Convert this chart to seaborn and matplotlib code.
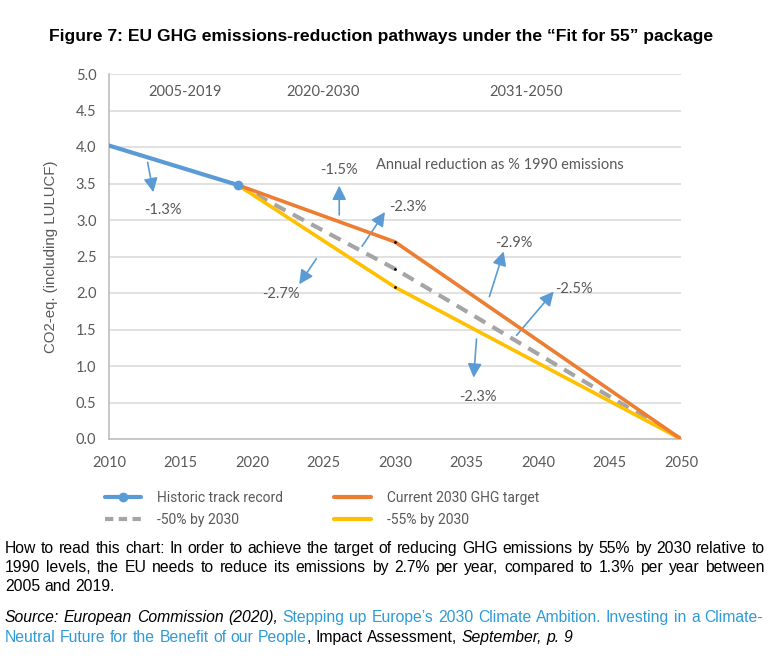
import matplotlib
matplotlib.use("Agg")
import matplotlib.pyplot as plt
import seaborn as sns
import pandas as pd
from matplotlib.lines import Line2D
from matplotlib import font_manager

# ---------------- data ----------------
hist_years = [2010, 2019]
hist_values = [4.02, 3.48]
path_years = [2019, 2030, 2050]
target_values = [3.48, 2.70, 0.0]    # Current 2030 GHG target
p50_values = [3.48, 2.33, 0.0]       # -50% by 2030
p55_values = [3.48, 2.08, 0.0]       # -55% by 2030

x_ticks = [2010, 2015, 2020, 2025, 2030, 2035, 2040, 2045, 2050]
y_ticks = [0.0, 0.5, 1.0, 1.5, 2.0, 2.5, 3.0, 3.5, 4.0, 4.5, 5.0]

period_labels = ["2005-2019", "2020-2030", "2031-2050"]
period_x = [2015.3, 2025.0, 2039.2]

rate_labels = ["-1.3%", "-1.5%", "-2.3%", "-2.7%", "-2.9%", "-2.5%", "-2.3%"]
rate_pos = [(2013.8, 3.14), (2026.1, 3.68), (2030.9, 3.18), (2022.0, 1.99),
            (2038.3, 2.68), (2042.5, 2.05), (2035.8, 0.58)]
arrow_from = [(2012.7, 3.79), (2026.1, 3.07), (2027.7, 2.64), (2024.5, 2.47),
              (2036.6, 1.95), (2038.5, 1.42), (2035.7, 1.37)]
arrow_to = [(2013.1, 3.38), (2026.1, 3.47), (2029.3, 3.11), (2023.3, 2.12),
            (2037.6, 2.57), (2041.1, 2.02), (2035.5, 0.84)]

legend_labels = ["Historic track record", "-50% by 2030",
                 "Current 2030 GHG target", "-55% by 2030"]

BLUE = "#5B9BD5"
ORANGE = "#ED7D31"
GREY = "#A5A5A5"
YELLOW = "#FFC000"
TXT = "#595959"
LINK = "#2E9BD6"

sns.set_theme(style="white")
plt.rcParams["font.family"] = ["Liberation Sans", "DejaVu Sans"]

W, H = 773, 668
fig = plt.figure(figsize=(W / 100, H / 100), dpi=100)
ax = fig.add_axes([109 / W, 1 - 439 / H, (681 - 109) / W, (439 - 74) / H])

df_t = pd.DataFrame({"year": path_years, "value": target_values})
df_50 = pd.DataFrame({"year": path_years, "value": p50_values})
df_55 = pd.DataFrame({"year": path_years, "value": p55_values})
df_h = pd.DataFrame({"year": hist_years, "value": hist_values})

sns.lineplot(data=df_50, x="year", y="value", ax=ax, color=GREY, lw=3.0,
             linestyle=(0, (3, 2)), zorder=3)
sns.lineplot(data=df_55, x="year", y="value", ax=ax, color=YELLOW, lw=2.6, zorder=4)
sns.lineplot(data=df_t, x="year", y="value", ax=ax, color=ORANGE, lw=2.6, zorder=5)
sns.lineplot(data=df_h, x="year", y="value", ax=ax, color=BLUE, lw=3.0,
             marker="o", markevery=[len(hist_years) - 1], ms=7,
             markeredgewidth=0, zorder=6)
mid = pd.DataFrame({"year": [path_years[1]] * 3,
                    "value": [target_values[1], p50_values[1], p55_values[1]]})
sns.scatterplot(data=mid, x="year", y="value", ax=ax, color="black", s=4,
                linewidth=0, zorder=7)

ax.set_xlim(2010, 2050)
ax.set_ylim(0, 5)
ax.set_xticks(x_ticks)
ax.set_yticks(y_ticks)
ax.set_yticklabels([f"{v:.1f}" for v in y_ticks])
ax.set_xlabel("")
ax.set_ylabel("CO2-eq. (including LULUCF)", color=TXT, fontsize=10.8, labelpad=13)
ax.grid(axis="y", color="#D9D9D9", lw=1.1)
ax.grid(axis="x", visible=False)
for s in ["top", "right"]:
    ax.spines[s].set_visible(False)
for s in ["left", "bottom"]:
    ax.spines[s].set_color("#BFBFBF")
    ax.spines[s].set_linewidth(1.2)
ax.tick_params(axis="x", length=0, pad=12, labelcolor=TXT)
ax.tick_params(axis="y", length=0, pad=9, labelcolor=TXT)
for lab in ax.get_xticklabels() + ax.get_yticklabels():
    lab.set_family(["Lato", "DejaVu Sans"])
    lab.set_fontsize(10.5)

for lab, px in zip(period_labels, period_x):
    ax.text(px, 4.75, lab, ha="center", va="center", color=TXT, fontsize=10.5,
            family=["Lato", "DejaVu Sans"])
ax.text(2028.7, 3.75, "Annual reduction as % 1990 emissions", ha="left",
        va="center", color=TXT, fontsize=10.5, family=["Lato", "DejaVu Sans"])
for lab, pos, a0, a1 in zip(rate_labels, rate_pos, arrow_from, arrow_to):
    ax.text(pos[0], pos[1], lab, ha="center", va="center", color=TXT,
            fontsize=10.5, family=["Lato", "DejaVu Sans"])
    ax.annotate("", xy=a1, xytext=a0,
                arrowprops=dict(arrowstyle="-|>,head_length=0.7,head_width=0.35",
                                color=BLUE, lw=1.2, shrinkA=0, shrinkB=0))

# legend
handles = [Line2D([], [], color=BLUE, lw=3, marker="o", ms=7, markeredgewidth=0),
           Line2D([], [], color=GREY, lw=3, linestyle=(0, (2, 1.3))),
           Line2D([], [], color=ORANGE, lw=3),
           Line2D([], [], color=YELLOW, lw=3)]
fig.legend(handles, legend_labels, ncol=2, loc="upper left",
           bbox_to_anchor=(92 / W, 1 - 478 / H), frameon=False,
           prop=dict(family=["Roboto", "Liberation Sans"], size=10),
           handlelength=2.66, handletextpad=1.15, columnspacing=3.65,
           labelspacing=0.62, labelcolor=TXT, numpoints=1)

# title
fig.text(381 / W, 1 - 37 / H,
         "Figure 7: EU GHG emissions-reduction pathways under the \u201cFit for 55\u201d package",
         ha="center", va="center", fontsize=12.6, fontweight="bold", color="black")

# ---------------- bottom text ----------------
renderer = fig.canvas.get_renderer()
try:
    font_manager.findfont("Liberation Sans Narrow", fallback_to_default=False)
    BODY = ["Liberation Sans Narrow", "Liberation Sans", "DejaVu Sans"]
except Exception:
    BODY = ["Liberation Sans", "DejaVu Sans"]

styles = {"n": dict(color="black"), "i": dict(color="black", style="italic"),
          "l": dict(color=LINK)}


def measure(s, size, st="n"):
    t = fig.text(0, 0, s, fontsize=size, family=BODY, **styles[st])
    w = t.get_window_extent(renderer).width
    t.remove()
    return w


def draw_line(tokens, base_px, x0, x1, size, justify=True):
    texts, widths, gaps = [], [], 0
    for i, (s, st, sp) in enumerate(tokens):
        t = fig.text(0, 1 - base_px / H, s, fontsize=size, family=BODY,
                     va="baseline", ha="left", **styles[st])
        texts.append(t)
        widths.append(t.get_window_extent(renderer).width)
        if i > 0 and sp:
            gaps += 1
    space = measure("a a", size) - measure("aa", size)
    gap = (x1 - x0 - sum(widths)) / gaps if (justify and gaps) else space
    x = x0
    for i, (t, w) in enumerate(zip(texts, widths)):
        if i > 0 and tokens[i][2]:
            x += gap
        t.set_x(x / W)
        x += w


def words(s, st):
    return [(w, st, True) for w in s.split(" ")]


l1 = "How to read this chart: In order to achieve the target of reducing GHG emissions by 55% by 2030 relative to"
l2 = "1990 levels, the EU needs to reduce its emissions by 2.7% per year, compared to 1.3% per year between"
l3 = "2005 and 2019."

size = 11.5
nat = measure(l1, size)
if nat > 755:
    size = size * 752 / nat

draw_line(words(l1, "n"), 553, 5, 765, size)
draw_line(words(l2, "n"), 572, 5, 765, size)
draw_line(words(l3, "n"), 591, 5, 765, size, justify=False)

s1 = words("Source: European Commission (2020),", "i") + \
    words("Stepping up Europe\u2019s 2030 Climate Ambition. Investing in a Climate-", "l")
s2 = words("Neutral Future for the Benefit of our People", "l") + \
    [(",", "n", False)] + words("Impact Assessment,", "n") + words("September, p. 9", "i")
draw_line(s1, 622, 5, 763, size)
draw_line(s2, 642, 5, 763, size, justify=False)

fig.savefig("out.png", dpi=100, facecolor="white")
